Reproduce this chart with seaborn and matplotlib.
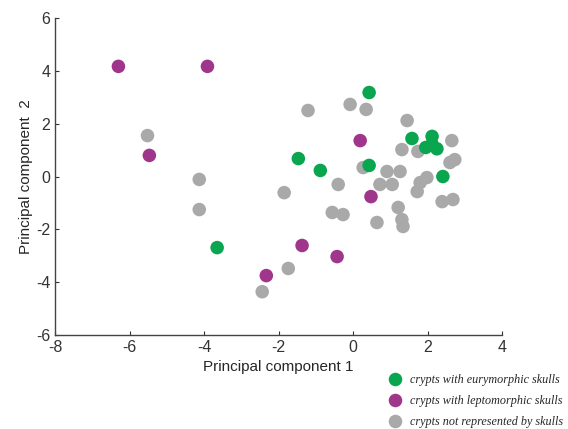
import numpy as np
import pandas as pd
import matplotlib
matplotlib.use('Agg')
import matplotlib.pyplot as plt
import seaborn as sns

# --- data ---
eury_x = [0.43, -1.47, -0.88, 0.43, 1.58, 2.12, 1.95, 2.12, 2.25, 2.41, -3.65]
eury_y = [3.18, 0.68, 0.23, 0.42, 1.44, 1.52, 1.10, 1.22, 1.05, 0.0, -2.69]

lepto_x = [-6.3, -3.91, -5.47, 0.19, 0.48, -1.37, -0.43, -2.33]
lepto_y = [4.17, 4.17, 0.80, 1.36, -0.76, -2.61, -3.03, -3.75]

none_x = [-5.52, -4.13, -4.13, -1.85, -1.74, -2.44, -1.21, -0.08, 0.35,
          1.45, 2.65, 1.31, 1.74, 2.73, 2.60, 0.27, 0.91, 1.26, 0.72, 1.05,
          1.80, 1.98, 1.72, -0.40, -0.56, -0.27, 0.64, 1.21, 1.31, 1.34,
          2.39, 2.68]
none_y = [1.55, -0.11, -1.25, -0.61, -3.48, -4.36, 2.50, 2.73, 2.54,
          2.12, 1.36, 1.02, 0.95, 0.64, 0.53, 0.34, 0.19, 0.19, -0.30, -0.30,
          -0.23, -0.04, -0.57, -0.30, -1.36, -1.44, -1.74, -1.17, -1.63, -1.89,
          -0.95, -0.87]

labels = ['crypts with eurymorphic skulls',
          'crypts with leptomorphic skulls',
          'crypts not represented by skulls']
colors = ['#0aa64f', '#a0358c', '#a9a9a9']

df = pd.concat([
    pd.DataFrame({'pc1': none_x, 'pc2': none_y, 'group': labels[2]}),
    pd.DataFrame({'pc1': lepto_x, 'pc2': lepto_y, 'group': labels[1]}),
    pd.DataFrame({'pc1': eury_x, 'pc2': eury_y, 'group': labels[0]}),
], ignore_index=True)

sns.set_style('white')
plt.rcParams['font.family'] = ['Liberation Sans', 'DejaVu Sans']
plt.rcParams['axes.unicode_minus'] = False

fig = plt.figure(figsize=(5.68, 4.29), dpi=100)
ax = fig.add_axes([0.097, 0.219, 0.787, 0.739])

sns.scatterplot(data=df, x='pc1', y='pc2', hue='group',
                hue_order=labels, palette=dict(zip(labels, colors)),
                s=95, marker='o', linewidth=0, alpha=1, ax=ax)

ax.set_xlim(-8, 4)
ax.set_ylim(-6, 6)
ax.set_xticks([-8, -6, -4, -2, 0, 2, 4])
ax.set_yticks([-6, -4, -2, 0, 2, 4, 6])
ax.set_xlabel('Principal component 1', fontsize=11, labelpad=4)
ax.set_ylabel('Principal component  2', fontsize=11, labelpad=2)
ax.tick_params(direction='in', length=3, width=0.8, labelsize=11.5,
               colors='#333333', bottom=True, left=True)
for side in ['top', 'right']:
    ax.spines[side].set_visible(False)
for side in ['left', 'bottom']:
    ax.spines[side].set_color('#4a3f4a')
    ax.spines[side].set_linewidth(1.0)

sns.move_legend(ax, loc='upper left', bbox_to_anchor=(0.665, 0.14),
                bbox_transform=fig.transFigure, frameon=False, title=None,
                prop={'family': 'Liberation Serif', 'style': 'italic', 'size': 8.7},
                labelspacing=0.75, handletextpad=0.3, markerscale=1.0,
                borderaxespad=0)

fig.savefig('out.png', dpi=100)
